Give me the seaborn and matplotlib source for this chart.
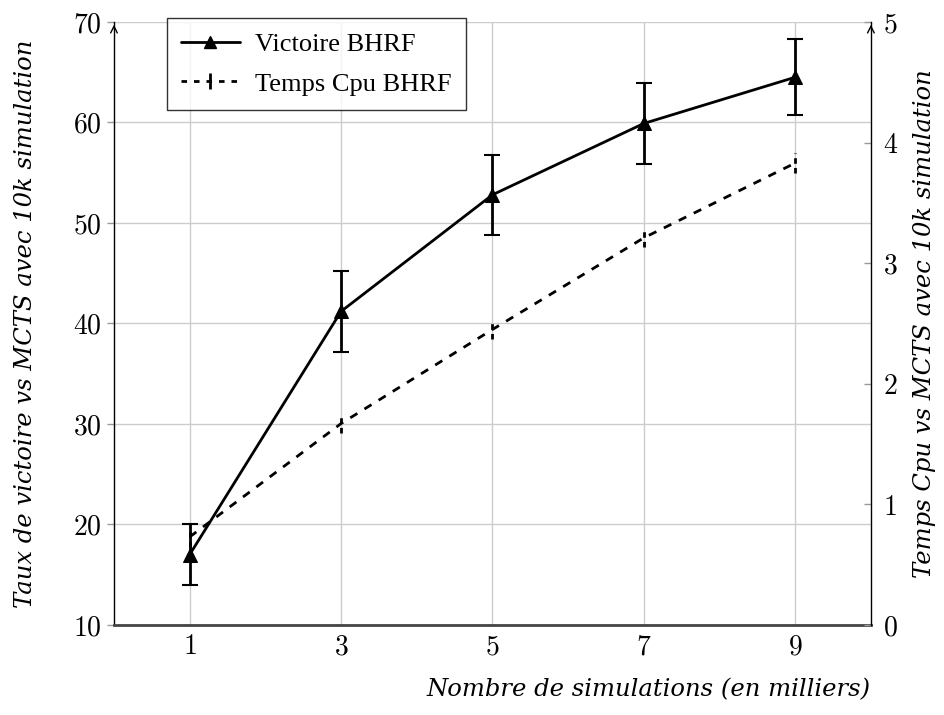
import matplotlib
matplotlib.use("Agg")
import matplotlib.pyplot as plt
import seaborn as sns
import pandas as pd
from matplotlib.lines import Line2D

# data
simulations = [1, 3, 5, 7, 9]
victoire = [17.0, 41.2, 52.8, 59.9, 64.5]
victoire_err = [3.0, 4.0, 4.0, 4.0, 3.8]
temps_cpu = [0.73, 1.67, 2.45, 3.21, 3.83]
temps_err = [0.08, 0.08, 0.08, 0.08, 0.08]

left_ticks = [10, 20, 30, 40, 50, 60, 70]
right_ticks = [0, 1, 2, 3, 4, 5]

df = pd.DataFrame({"sim": simulations, "victoire": victoire, "cpu": temps_cpu})

sns.set_theme(style="whitegrid")
plt.rcParams["mathtext.fontset"] = "cm"
plt.rcParams["font.family"] = ["DejaVu Serif"]
plt.rcParams["axes.labelcolor"] = "black"
plt.rcParams["text.color"] = "black"

fig = plt.figure(figsize=(9.45, 7.15), dpi=100)
ax = fig.add_axes([0.1206, 0.1259, 0.801, 0.8434])
ax2 = ax.twinx()

# solid line, left axis
sns.lineplot(data=df, x="sim", y="victoire", ax=ax, color="black", lw=2,
             marker="^", markersize=10, markeredgecolor="black", legend=False)
ax.errorbar(simulations, victoire, yerr=victoire_err, fmt="none", ecolor="black",
            elinewidth=2, capsize=6, capthick=1.5)

# dashed line, right axis
sns.lineplot(data=df, x="sim", y="cpu", ax=ax2, color="black", lw=2,
             linestyle=(0, (3, 3)), legend=False)
eb = ax2.errorbar(simulations, temps_cpu, yerr=temps_err, fmt="none", ecolor="black",
                  elinewidth=2, capsize=0)
for c in eb[2]:
    c.set_linestyle((0, (2, 1.5)))

ax.set_xlim(0, 10)
ax.set_ylim(10, 70)
ax2.set_ylim(0, 5)
ax.set_xticks(simulations)
ax.set_yticks(left_ticks)
ax2.set_yticks(right_ticks)
ax.set_xticklabels([f"${v}$" for v in simulations])
ax.set_yticklabels([f"${v}$" for v in left_ticks])
ax2.set_yticklabels([f"${v}$" for v in right_ticks])

ax.tick_params(axis="y", labelsize=20, colors="#999999", labelcolor="black",
               direction="out", length=5, width=1, pad=4)
ax.tick_params(axis="x", labelsize=20, colors="#999999", labelcolor="black",
               direction="in", length=5, width=1, pad=6)
ax2.tick_params(axis="y", labelsize=20, colors="#999999", labelcolor="black",
                direction="in", length=5, width=1, pad=9)

ax.grid(True, color="#cccccc", lw=1)
ax2.grid(False)
ax.set_axisbelow(True)

for a in (ax, ax2):
    for s in a.spines.values():
        s.set_visible(False)
ax.spines["left"].set_visible(True)
ax.spines["left"].set_color("black")
ax.spines["left"].set_linewidth(1)
ax.spines["bottom"].set_visible(True)
ax.spines["bottom"].set_color("#444444")
ax.spines["bottom"].set_linewidth(2)
ax2.spines["right"].set_visible(True)
ax2.spines["right"].set_color("black")
ax2.spines["right"].set_linewidth(1)

for xa in (0, 1):
    ax.annotate("", xy=(xa, 1.0), xytext=(xa, 0.985), xycoords="axes fraction",
                arrowprops=dict(arrowstyle="->", lw=1, color="black"))

ax.set_xlabel("Nombre de simulations (en milliers)", fontsize=17.5, style="italic",
              color="black")
ax.xaxis.label.set_ha("right")
ax.xaxis.label.set_va("center")
ax.xaxis.set_label_coords(1.0, -0.108)

ax.set_ylabel("Taux de victoire vs MCTS avec 10k simulation", fontsize=17.5,
              style="italic", color="black")
ax.yaxis.label.set_va("center")
ax.yaxis.set_label_coords(-0.117, 0.5)

ax2.set_ylabel("Temps Cpu vs MCTS avec 10k simulation", fontsize=17.5,
               style="italic", rotation=90, color="black")
ax2.yaxis.label.set_va("center")
ax2.yaxis.set_label_coords(1.0713, 0.5)

handles = [
    Line2D([], [], color="black", lw=2, marker="^", markersize=9),
    Line2D([], [], color="black", lw=2, linestyle=(0, (2, 2.5)), marker="|",
           markersize=12, markeredgewidth=2),
]
leg = ax.legend(handles, ["Victoire BHRF", "Temps Cpu BHRF"], loc="upper left",
                bbox_to_anchor=(0.07, 1.006), borderaxespad=0,
                prop={"family": "Liberation Serif", "size": 19}, frameon=True,
                fancybox=False, edgecolor="black", handlelength=2.2,
                borderpad=0.55, labelspacing=0.6, handletextpad=0.6)
leg.get_frame().set_linewidth(1)
for t in leg.get_texts():
    t.set_color("black")
leg.set_zorder(10)

fig.savefig("out.png", dpi=100)
